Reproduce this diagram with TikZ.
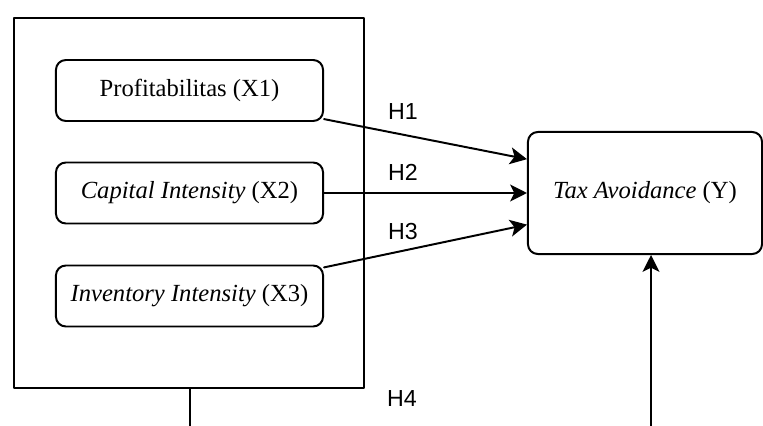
\documentclass[tikz,border=0pt]{standalone}
\usepackage{fontspec}
\setmainfont{Liberation Serif}
\newfontfamily\hypfont{Liberation Sans}
\usetikzlibrary{arrows.meta}

\tikzset{
	varbox/.style={draw,line width=1.4pt,rounded corners=7pt,inner sep=0pt,
		font=\fontsize{17.5}{20}\selectfont},
	hyplabel/.style={font=\hypfont\fontsize{16.5}{18}\selectfont}
}

\begin{document}
\begin{tikzpicture}
			[line cap=round,line join=round,>={Stealth[length=12pt,width=12pt,inset=3pt]},x=0.025cm,y=-0.025cm]
			\useasboundingbox (0,0) rectangle (763,426);
			% independent variables
			\node [draw,line width=1.4pt,minimum width=8.75cm,minimum height=9.25cm] (panel) at (189,203) {};
			\node [varbox,minimum width=6.675cm,minimum height=1.525cm] (x1) at (189.5,90.5) {Profitabilitas (X1)};
			\node [varbox,minimum width=6.675cm,minimum height=1.525cm] (x2) at (189.5,193) {\textit{Capital Intensity} (X2)};
			\node [varbox,minimum width=6.675cm,minimum height=1.525cm] (x3) at (189.5,296) {\textit{Inventory Intensity} (X3)};
			% dependent variable
			\node [varbox,minimum width=5.85cm,minimum height=3.05cm] (y) at (645,193) {\textit{Tax Avoidance} (Y)};
			% hypotheses
			\draw [line width=1.4pt,->] (x1.-12) -- (y.164);
			\draw [line width=1.4pt,->] (x2) -- (y);
			\draw [line width=1.4pt,->] (x3.12) -- (y.-165);
			\node [hyplabel] (h1) at (403,112) {H1};
			\node [hyplabel] (h2) at (403,172) {H2};
			\node [hyplabel] (h3) at (403,232) {H3};
			\node [hyplabel] (h4) at (402,399) {H4};
			\coordinate (pout) at (190,426);
			\coordinate (yin) at (651,426);
			\draw [line width=1.4pt] (panel.south -| pout) -- (pout);
			\draw [line width=1.4pt,->] (yin) -- (yin |- y.south);
		\end{tikzpicture}
\end{document}
